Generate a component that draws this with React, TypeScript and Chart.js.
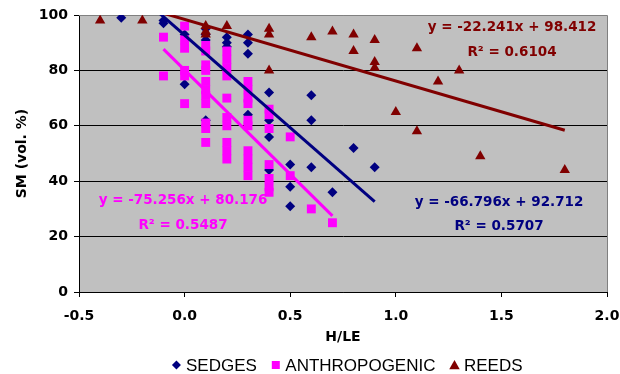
import React, { useEffect, useRef } from 'react';
import { Chart, registerables } from 'chart.js';

Chart.register(...registerables);

// ---------- DATA ----------
const sedgesX = [-0.3, -0.1, -0.1, 0.0, 0.0, 0.1, 0.1, 0.1, 0.1, 0.2, 0.2, 0.2, 0.3, 0.3, 0.3, 0.3, 0.4, 0.4, 0.4, 0.4, 0.5, 0.5, 0.5, 0.6, 0.6, 0.6, 0.7, 0.8, 0.9];
const sedgesY = [99, 98, 97, 93, 75, 95, 93, 91, 62, 92, 90, 88.5, 93, 90, 86, 64, 72, 62, 56, 44, 46, 38, 31, 71, 62, 45, 36, 52, 45];

const anthroX = [
  -0.1, -0.1,
  0.0, 0.0, 0.0, 0.0, 0.0, 0.0,
  0.1, 0.1, 0.1, 0.1, 0.1, 0.1, 0.1, 0.1, 0.1, 0.1, 0.1,
  0.2, 0.2, 0.2, 0.2, 0.2, 0.2, 0.2, 0.2, 0.2, 0.2,
  0.3, 0.3, 0.3, 0.3, 0.3, 0.3, 0.3, 0.3, 0.3, 0.3,
  0.4, 0.4, 0.4, 0.4, 0.4, 0.4, 0.4,
  0.5, 0.5,
  0.6,
  0.7,
];
const anthroY = [
  92, 78,
  96, 91, 88, 80, 78, 68,
  89, 87, 82, 80, 76, 73, 71, 68, 61, 59, 54,
  87, 84, 81, 78, 70, 63, 60, 54, 51, 48,
  76, 73, 70, 68, 62, 60, 51, 48, 45, 42,
  66, 64, 59, 46, 41, 38, 36,
  56, 42,
  30,
  25,
];

const reedsX = [-0.4, -0.2, 0.1, 0.1, 0.1, 0.2, 0.4, 0.4, 0.4, 0.6, 0.7, 0.8, 0.8, 0.9, 0.9, 0.9, 1.0, 1.1, 1.1, 1.2, 1.3, 1.4, 1.8];
const reedsY = [98, 98, 96, 94, 93, 96, 95, 93, 80, 92, 94, 93, 87, 91, 83, 81, 65, 88, 58, 76, 80, 49, 44];

// trendline equations as printed on the chart
const sedgesTrend = { slope: -66.796, intercept: 92.712, r2: 0.5707 };
const anthroTrend = { slope: -75.256, intercept: 80.176, r2: 0.5487 };
const reedsTrend = { slope: -22.241, intercept: 98.412, r2: 0.6104 };

const seriesNames = ['SEDGES', 'ANTHROPOGENIC', 'REEDS'];
const xTickValues = [-0.5, 0.0, 0.5, 1.0, 1.5, 2.0];
const yTickValues = [0, 20, 40, 60, 80, 100];
const xTitle = 'H/LE';
const yTitle = 'SM (vol. %)';

// ---------- STYLE ----------
const SEDGE_COLOR = '#000080';
const ANTHRO_COLOR = '#FF00FF';
const REED_COLOR = '#800000';
const PLOT_BG = '#C0C0C0';
const BOLD_FONT = '"DejaVu Sans"';

const toPoints = (xs: number[], ys: number[]) => xs.map((x, i) => ({ x, y: ys[i] }));
const trendPoints = (xs: number[], t: { slope: number; intercept: number }) => {
  const lo = Math.min(...xs);
  const hi = Math.max(...xs);
  return [
    { x: lo, y: t.slope * lo + t.intercept },
    { x: hi, y: t.slope * hi + t.intercept },
  ];
};
const eqText = (t: { slope: number; intercept: number }) =>
  `y = ${t.slope.toFixed(3)}x + ${t.intercept.toFixed(3)}`;
const r2Text = (t: { r2: number }) => `R\u00B2 = ${t.r2.toFixed(4)}`;

function drawShape(ctx: CanvasRenderingContext2D, shape: string, x: number, y: number, r: number) {
  ctx.beginPath();
  if (shape === 'diamond') {
    ctx.moveTo(x, y - r);
    ctx.lineTo(x + r, y);
    ctx.lineTo(x, y + r);
    ctx.lineTo(x - r, y);
  } else if (shape === 'square') {
    ctx.rect(x - r, y - r, 2 * r, 2 * r);
  } else {
    ctx.moveTo(x, y - r);
    ctx.lineTo(x + r * 1.05, y + r * 0.85);
    ctx.lineTo(x - r * 1.05, y + r * 0.85);
  }
  ctx.closePath();
  ctx.fill();
}

const decorPlugin = {
  id: 'decor',
  beforeDraw(chart: any) {
    const { ctx, chartArea } = chart;
    const { left, top, right, bottom } = chartArea;
    ctx.save();
    ctx.fillStyle = PLOT_BG;
    ctx.fillRect(left, top, right - left, bottom - top);
    ctx.restore();
  },
  beforeDatasetsDraw(chart: any) {
    const { ctx, chartArea } = chart;
    const { left, top, right, bottom } = chartArea;
    ctx.save();
    ctx.strokeStyle = '#808080';
    ctx.lineWidth = 1;
    ctx.beginPath();
    ctx.moveTo(left, Math.round(top) + 0.5);
    ctx.lineTo(Math.round(right) + 0.5, Math.round(top) + 0.5);
    ctx.lineTo(Math.round(right) + 0.5, bottom);
    ctx.stroke();
    ctx.restore();
  },
  afterDraw(chart: any) {
    const { ctx } = chart;
    ctx.save();
    // regression labels
    ctx.font = `bold 13.5px ${BOLD_FONT}`;
    ctx.textAlign = 'center';
    ctx.textBaseline = 'middle';
    const labels = [
      { t: reedsTrend, color: REED_COLOR, x: 512, y1: 27, y2: 52 },
      { t: sedgesTrend, color: SEDGE_COLOR, x: 499, y1: 202, y2: 226 },
      { t: anthroTrend, color: ANTHRO_COLOR, x: 183, y1: 200, y2: 225 },
    ];
    labels.forEach((l) => {
      ctx.fillStyle = l.color;
      ctx.fillText(eqText(l.t), l.x, l.y1);
      ctx.fillText(r2Text(l.t), l.x, l.y2);
    });

    // legend
    const items = [
      { label: seriesNames[0], color: SEDGE_COLOR, shape: 'diamond', r: 4.5 },
      { label: seriesNames[1], color: ANTHRO_COLOR, shape: 'square', r: 4 },
      { label: seriesNames[2], color: REED_COLOR, shape: 'triangle', r: 5 },
    ];
    ctx.font = '17px "Liberation Sans"';
    ctx.textAlign = 'left';
    const widths = items.map((it) => ctx.measureText(it.label).width);
    const itemGap = 14;
    const textOffset = 14.5;
    const total = widths.reduce((a, w) => a + textOffset + w, 0) + itemGap * (items.length - 1);
    let x = 347 - total / 2;
    const ly = 365;
    items.forEach((it, i) => {
      ctx.fillStyle = it.color;
      drawShape(ctx, it.shape, x + 5, ly, it.r);
      ctx.fillStyle = '#000';
      ctx.fillText(it.label, x + textOffset, ly + 1);
      x += textOffset + widths[i] + itemGap;
    });
    ctx.restore();
  },
};

export default function App() {
  const canvasRef = useRef<HTMLCanvasElement | null>(null);

  useEffect(() => {
    if (!canvasRef.current) return;
    const tickFont = { family: BOLD_FONT, size: 14, weight: 'bold' as const };
    const chart = new Chart(canvasRef.current, {
      type: 'scatter',
      data: {
        datasets: [
          {
            type: 'line',
            label: 'sedges trend',
            data: trendPoints(sedgesX, sedgesTrend),
            borderColor: SEDGE_COLOR,
            borderWidth: 3,
            pointRadius: 0,
            showLine: true,
            clip: 0,
            order: 0,
          },
          {
            type: 'line',
            label: 'anthro trend',
            data: trendPoints(anthroX, anthroTrend),
            borderColor: ANTHRO_COLOR,
            borderWidth: 3,
            pointRadius: 0,
            showLine: true,
            clip: 0,
            order: 0,
          },
          {
            type: 'line',
            label: 'reeds trend',
            data: trendPoints(reedsX, reedsTrend),
            borderColor: REED_COLOR,
            borderWidth: 3,
            pointRadius: 0,
            showLine: true,
            clip: 0,
            order: 0,
          },
          {
            label: seriesNames[0],
            data: toPoints(sedgesX, sedgesY),
            pointStyle: 'rectRot',
            pointRadius: 5,
            backgroundColor: SEDGE_COLOR,
            borderColor: SEDGE_COLOR,
            borderWidth: 0,
            order: 3,
          },
          {
            label: seriesNames[1],
            data: toPoints(anthroX, anthroY),
            pointStyle: 'rect',
            pointRadius: 6.3,
            backgroundColor: ANTHRO_COLOR,
            borderColor: ANTHRO_COLOR,
            borderWidth: 0,
            order: 2,
          },
          {
            label: seriesNames[2],
            data: toPoints(reedsX, reedsY),
            pointStyle: 'triangle',
            pointRadius: 6,
            backgroundColor: REED_COLOR,
            borderColor: REED_COLOR,
            borderWidth: 0,
            order: 1,
          },
        ] as any,
      },
      options: {
        responsive: false,
        animation: false,
        events: [],
        layout: { padding: { top: 15, right: 13, bottom: 22, left: 0 } },
        plugins: {
          legend: { display: false },
          tooltip: { enabled: false },
        },
        scales: {
          x: {
            type: 'linear',
            min: -0.5,
            max: 2.0,
            afterBuildTicks: (s: any) => {
              s.ticks = xTickValues.map((v) => ({ value: v }));
            },
            afterFit: (s: any) => {
              s.height = 60;
              s.paddingLeft = 0;
              s.paddingRight = 0;
            },
            ticks: {
              callback: (v: any) => Number(v).toFixed(1),
              font: tickFont,
              color: '#000',
              padding: 11,
              maxRotation: 0,
              autoSkip: false,
            },
            grid: {
              display: true,
              drawOnChartArea: false,
              drawTicks: true,
              tickLength: 5,
              color: '#000',
              tickColor: '#000',
            },
            border: { display: true, color: '#000', width: 1 },
            title: {
              display: true,
              text: xTitle,
              font: tickFont,
              color: '#000',
              padding: { top: 0, bottom: 6 },
            },
          },
          y: {
            type: 'linear',
            min: 0,
            max: 100,
            afterBuildTicks: (s: any) => {
              s.ticks = yTickValues.map((v) => ({ value: v }));
            },
            afterFit: (s: any) => {
              s.width = 79;
            },
            ticks: {
              font: tickFont,
              color: '#000',
              padding: 6,
              autoSkip: false,
            },
            grid: {
              display: true,
              drawOnChartArea: true,
              drawTicks: true,
              tickLength: 5,
              color: (c: any) => (c.tick && c.tick.value === 100 ? '#808080' : '#000'),
              tickColor: '#000',
            },
            border: { display: true, color: '#000', width: 1 },
            title: {
              display: true,
              text: yTitle,
              font: tickFont,
              color: '#000',
              padding: { top: 13.6, bottom: 0 },
            },
          },
        },
      },
      plugins: [decorPlugin],
    });
    return () => chart.destroy();
  }, []);

  return (
    <div style={{ position: 'absolute', left: 0, top: 0, width: 620, height: 374, background: '#fff' }}>
      <canvas ref={canvasRef} width={620} height={374} style={{ display: 'block', width: 620, height: 374 }} />
    </div>
  );
}
